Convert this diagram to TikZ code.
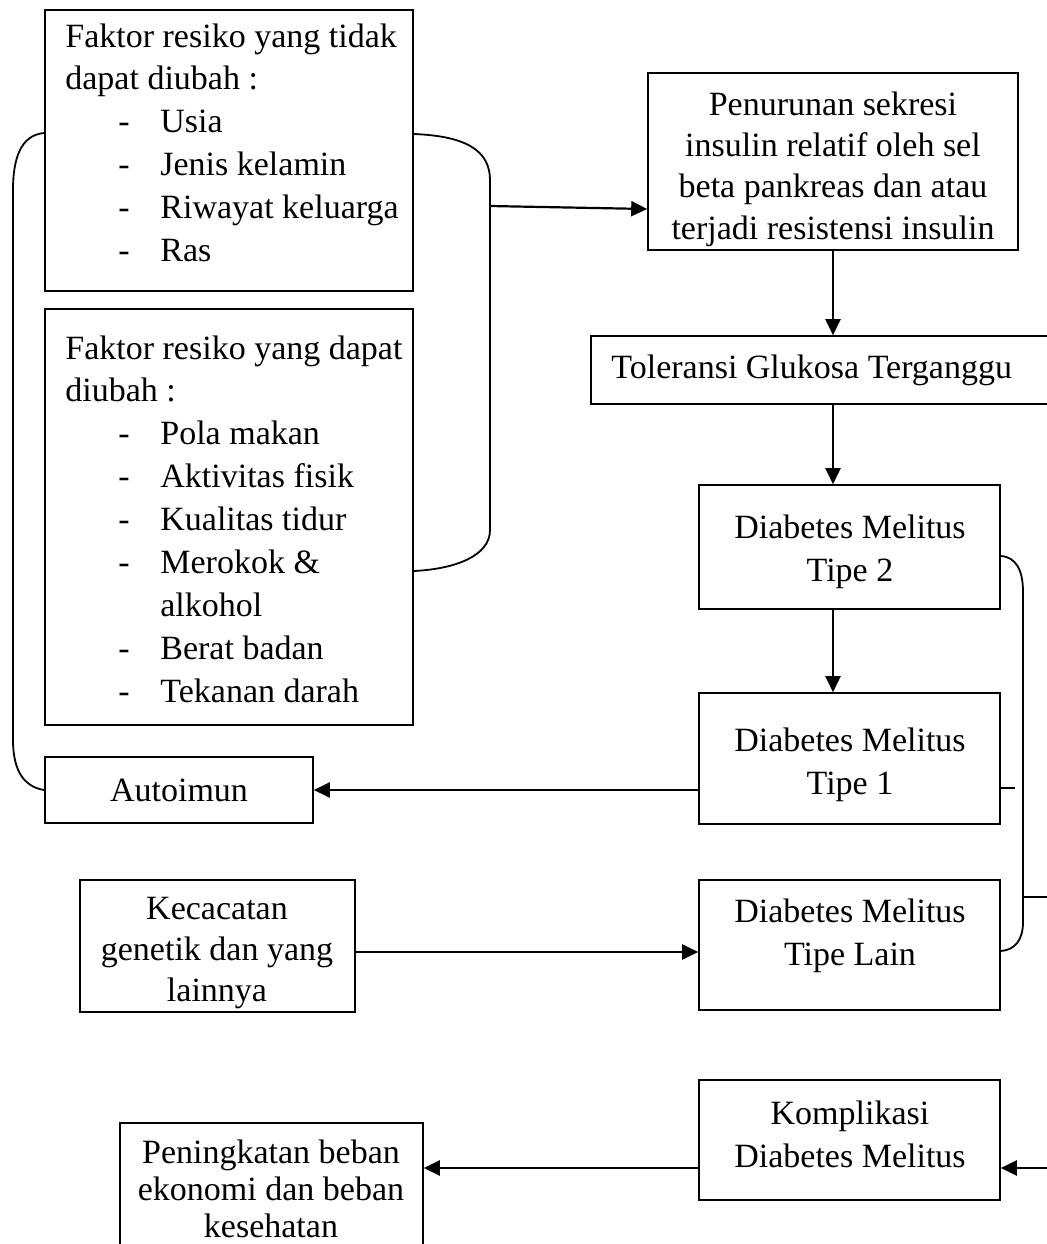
\documentclass[tikz,border=0pt]{standalone}
\usepackage{fontspec}
\setmainfont{Liberation Serif}
\usetikzlibrary{arrows.meta}
\newcommand\itm[1]{\hspace*{26.5pt}\makebox[21pt][l]{-}#1}
\begin{document}
\begin{tikzpicture}[x=0.5pt,y=-0.5pt,
  font=\fontsize{17}{21.4}\selectfont,
  box/.style={draw, line width=0.8pt, inner sep=0pt},
  txt/.style={inner sep=0pt, align=center},
  ltxt/.style={inner sep=0pt, anchor=base west},
  arr/.style={line width=1.1pt, -{Triangle[length=8pt,width=7.5pt]}},
  ln/.style={line width=0.9pt}]
\clip (0,0) rectangle (1047,1244);
% boxes
\node[box, minimum width=184pt, minimum height=140.5pt] (f1) at (229,150.5) {};
\node[box, minimum width=184pt, minimum height=208pt] (f2) at (229,517) {};
\node[box, minimum width=185pt, minimum height=88.5pt] (pen) at (833,161.5) {};
\node[box, minimum width=239.5pt, minimum height=34pt] (tol) at (830.5,370) {};
\node[box, minimum width=150.5pt, minimum height=62pt] (dm2) at (849.5,547) {};
\node[box, minimum width=150.5pt, minimum height=65.5pt] (dm1) at (849.5,758.5) {};
\node[box, minimum width=134pt, minimum height=33pt] (auto) at (179,790) {};
\node[box, minimum width=137.5pt, minimum height=66pt] (kec) at (217.5,946) {};
\node[box, minimum width=150.5pt, minimum height=65pt] (dml) at (849.5,945) {};
\node[box, minimum width=150.5pt, minimum height=60pt] (kom) at (849.5,1140) {};
\node[box, minimum width=151.5pt, minimum height=73.5pt] (pen2) at (271.5,1196.5) {};
% texts
\foreach \t [count=\i] in {{Faktor resiko yang tidak},{dapat diubah :},{\itm{Usia}},{\itm{Jenis kelamin}},{\itm{Riwayat keluarga}},{\itm{Ras}}}
  \node[ltxt] (fa\i) at (65,{47+42.8*(\i-1)}) {\t};
\foreach \t [count=\i] in {{Faktor resiko yang dapat},{diubah :},{\itm{Pola makan}},{\itm{Aktivitas fisik}},{\itm{Kualitas tidur}},{\itm{Merokok \&}},{\hspace*{47.5pt}alkohol},{\itm{Berat badan}},{\itm{Tekanan darah}}}
  \node[ltxt] (fb\i) at (65,{359+42.9*(\i-1)}) {\t};
\node[txt, font=\fontsize{17}{20.7}\selectfont] (pent) at (833,169) {Penurunan sekresi\\insulin relatif oleh sel\\beta pankreas dan atau\\terjadi resistensi insulin};
\node[txt, anchor=west] (tolt) at (611,370) {Toleransi Glukosa Terganggu};
\node[txt] (dm2t) at (850,552) {Diabetes Melitus\\Tipe 2};
\node[txt] (dm1t) at (850,765) {Diabetes Melitus\\Tipe 1};
\node[txt] (autot) at (179,790) {Autoimun};
\node[txt, font=\fontsize{17}{20.4}\selectfont] (kect) at (217,953) {Kecacatan\\genetik dan yang\\lainnya};
\node[txt] (dmlt) at (850,936) {Diabetes Melitus\\Tipe Lain};
\node[txt] (komt) at (850,1134) {Komplikasi\\Diabetes Melitus};
\node[txt, font=\fontsize{17}{18.6}\selectfont] (pen2t) at (271,1189) {Peningkatan beban\\ekonomi dan beban\\kesehatan};
% braces
\draw[ln] (f1.west |- 0,133) .. controls (20,135) and (13,160) .. (13,190) -- (13,740) .. controls (13,772) and (25,787) .. (auto.west);
\draw[ln] (f1.east |- 0,134) .. controls (465,136) and (490,150) .. (490,180) -- (490,530) .. controls (490,556) and (455,569) .. (f2.east |- 0,571);
\coordinate (bj) at (490,206);
\draw[arr] (bj) -- (pen.west |- 0,209);
\draw[ln] (dm2.east |- 0,556) .. controls (1016,557) and (1023,570) .. (1023,592) -- (1023,922) .. controls (1023,940) and (1015,950) .. (dml.east |- 0,951);
\coordinate (t1) at (1015,788);
\draw[ln] (dm1.east |- t1) -- (t1);
\coordinate (t2a) at (1023,897);
\coordinate (t2b) at (1070,897);
\draw[ln] (t2a) -- (t2b);
% arrows
\draw[arr] (pen.south) -- (pen.south |- tol.north);
\draw[arr] (pen.south |- tol.south) -- (pen.south |- dm2.north);
\draw[arr] (pen.south |- dm2.south) -- (pen.south |- dm1.north);
\draw[arr] (auto.east -| dm1.west) -- (auto.east);
\draw[arr] (kec.east |- 0,952) -- (dml.west |- 0,952);
\coordinate (ky) at (0,1168);
\coordinate (kin) at (1070,1168);
\draw[arr] (kin) -- (kom.east |- kin);
\draw[arr] (kom.west |- ky) -- (pen2.east |- ky);
\end{tikzpicture}
\end{document}
